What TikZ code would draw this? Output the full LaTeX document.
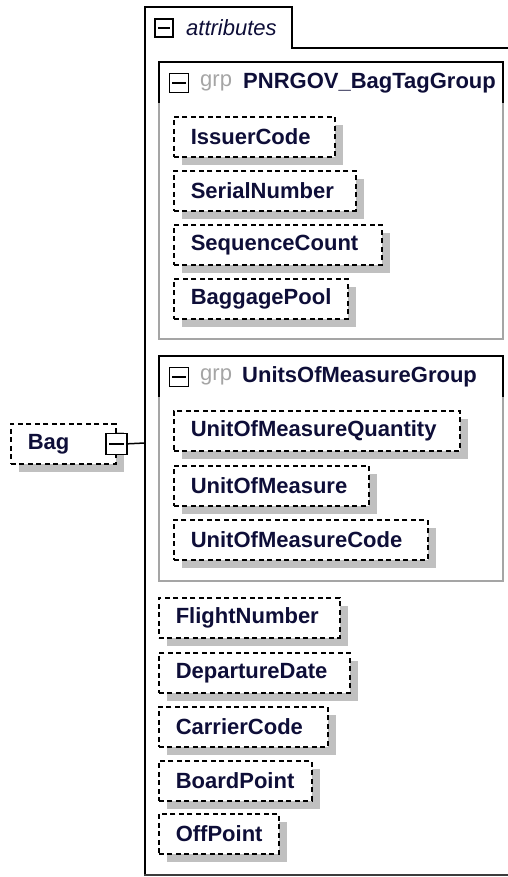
\documentclass[tikz,border=0pt]{standalone}
\usepackage{fontspec}
\setmainfont{Liberation Sans}
\usetikzlibrary{shadows}
\definecolor{ink}{RGB}{14,14,56}
\definecolor{shade}{RGB}{192,192,192}
\definecolor{grpgray}{RGB}{165,165,165}
\definecolor{framegray}{RGB}{60,60,60}
\begin{document}
\begin{tikzpicture}[x=1pt,y=-1pt,
  elem/.style={draw=black, dash pattern=on 5pt off 3.5pt, line width=1.6pt, fill=white,
    anchor=north west, minimum height=40pt, inner xsep=17pt, inner ysep=0pt,
    text width=#1, align=left, font=\fontsize{22}{26}\selectfont\bfseries, text=ink,
    drop shadow={shadow xshift=8pt, shadow yshift=-8pt, fill=shade, opacity=1}},
  collapsebox/.style={draw=black, line width=1.5pt, fill=white, minimum size=#1, inner sep=0pt},
  grpframe/.style={draw=grpgray, line width=1.5pt},
  grphead/.style={draw=black, line width=1.5pt},
  lbl/.style={anchor=west, inner sep=0pt, font=\fontsize{22}{26}\selectfont},
  connector/.style={draw=black, line width=1.5pt}
]
\useasboundingbox (0,0) rectangle (507,877);

% outer attributes frame with tab
\draw[line width=1.8pt, black] (145,875) -- (145,7) -- (292,7) -- (292,48) -- (512,48);
\draw[line width=2pt, framegray] (144.1,875) -- (512,875);
\node[collapsebox=18pt] (attrminus) at (164,28) {};
\draw[line width=1.5pt] ([xshift=3.5pt]attrminus.west) -- ([xshift=-3.5pt]attrminus.east);
\node[lbl, font=\fontsize{22}{26}\selectfont\itshape, text=ink] (attrlbl) at (186,28) {attributes};

% group 1
\draw[grpframe] (159,62) rectangle (503,339);
\draw[grphead] (159,103) -- (159,62) -- (503,62) -- (503,103);
\node[collapsebox=19pt] (g1minus) at (179,83) {};
\draw[line width=1.5pt] ([xshift=3.5pt]g1minus.west) -- ([xshift=-3.5pt]g1minus.east);
\node[lbl, text=grpgray] (g1grp) at (200,83) {grp};
\node[lbl, text=ink, font=\fontsize{22}{26}\selectfont\bfseries] (g1name) at (243,83) {PNRGOV\_BagTagGroup};

\node[elem=127pt] (issuer) at (173,116) {IssuerCode};
\node[elem=148pt] (serial) at (173,170) {SerialNumber};
\node[elem=174pt] (seqcount) at (173,224) {SequenceCount};
\node[elem=140pt] (pool) at (173,278) {BaggagePool};

% group 2
\draw[grpframe] (159,356) rectangle (503,581);
\draw[grphead] (159,397) -- (159,356) -- (503,356) -- (503,397);
\node[collapsebox=19pt] (g2minus) at (179,377) {};
\draw[line width=1.5pt] ([xshift=3.5pt]g2minus.west) -- ([xshift=-3.5pt]g2minus.east);
\node[lbl, text=grpgray] (g2grp) at (200,377) {grp};
\node[lbl, text=ink, font=\fontsize{22}{26}\selectfont\bfseries] (g2name) at (242,377) {UnitsOfMeasureGroup};

\node[elem=252pt] (uomq) at (173,410) {UnitOfMeasureQuantity};
\node[elem=161pt] (uom) at (173,465) {UnitOfMeasure};
\node[elem=220pt] (uomc) at (173,519) {UnitOfMeasureCode};

% plain attributes
\node[elem=147pt] (flight) at (158,597) {FlightNumber};
\node[elem=157pt] (depdate) at (158,652) {DepartureDate};
\node[elem=135pt] (carrier) at (158,706) {CarrierCode};
\node[elem=119pt] (board) at (158,760) {BoardPoint};
\node[elem=86pt] (off) at (158,813) {OffPoint};

% Bag element
\node[elem=71pt] (bag) at (10,423) {Bag};
\node[collapsebox=21pt] (bagexp) at (bag.east) {};
\draw[line width=1.5pt] ([xshift=4pt]bagexp.west) -- ([xshift=-4pt]bagexp.east);
\coordinate (attrleft) at (145,443);
\draw[connector] (bagexp.east) -- (attrleft);
\end{tikzpicture}
\end{document}
